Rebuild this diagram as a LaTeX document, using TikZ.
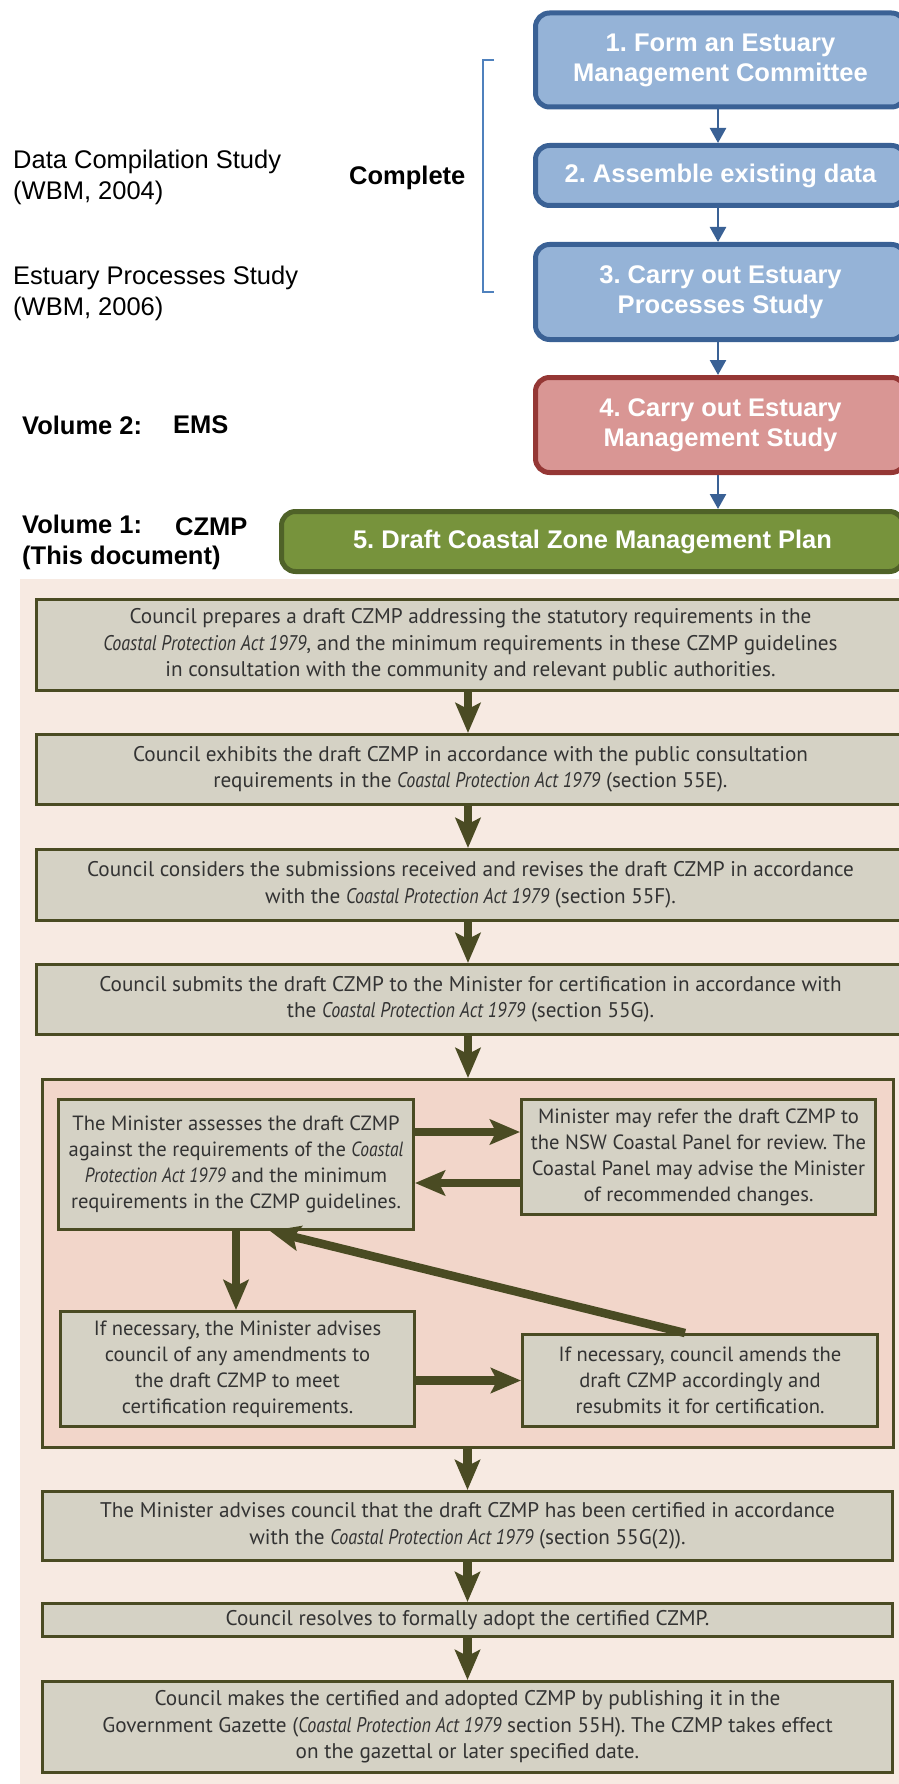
\documentclass[tikz,border=0pt]{standalone}
\usepackage{fontspec}
\setmainfont{Liberation Sans}
\newfontfamily\lowfont{PT Sans}[ItalicFeatures={FakeStretch=0.85}]
\usetikzlibrary{arrows.meta}
\definecolor{bluefill}{HTML}{95B3D7}
\definecolor{blueline}{HTML}{3A6195}
\definecolor{bracketc}{HTML}{4F81BD}
\definecolor{redfill}{HTML}{D99694}
\definecolor{redline}{HTML}{953735}
\definecolor{greenfill}{HTML}{77933C}
\definecolor{greenline}{HTML}{4F6228}
\definecolor{peach}{HTML}{F7EAE2}
\definecolor{pinkfill}{HTML}{F2D6CA}
\definecolor{greyfill}{HTML}{D5D2C5}
\definecolor{olive}{HTML}{4A4B23}
\definecolor{txt}{HTML}{333333}
\frenchspacing
\tikzset{
  topbox/.style={rounded corners=14pt, line width=5pt, align=center, inner sep=0pt, text=white,
    font=\bfseries\fontsize{25.5}{30}\selectfont},
  bluebox/.style={topbox, draw=blueline, fill=bluefill},
  redbox/.style={topbox, draw=redline, fill=redfill},
  greenbox/.style={topbox, draw=greenline, fill=greenfill},
  bluearrow/.style={draw=blueline, line width=2.5pt, -{Triangle[length=15pt,width=16pt]}},
  gbox/.style={draw=olive, line width=3pt, fill=greyfill, align=center, inner sep=0pt, text=txt,
    font=\lowfont\fontsize{21.2}{26.5}\selectfont},
  ibox/.style={gbox, font=\lowfont\fontsize{20.6}{26}\selectfont},
  bigarrow/.style={draw=olive, line width=8.5pt, -{Stealth[length=30pt,width=25pt,inset=6pt]}},
  sidetext/.style={anchor=west, align=left, inner sep=0pt, font=\fontsize{25.5}{31}\selectfont},
  sidebold/.style={anchor=west, align=left, inner sep=0pt, font=\bfseries\fontsize{25.5}{31}\selectfont}
}
\begin{document}
\begin{tikzpicture}[x=1pt,y=-1pt]
\useasboundingbox (0,0) rectangle (898,1784);
% top flow
\node[bluebox, minimum width=370pt, minimum height=94pt] (b1) at (720.5,60) {1. Form an Estuary\\Management Committee};
\node[bluebox, minimum width=370pt, minimum height=60pt] (b2) at (720.5,175.5) {2. Assemble existing data};
\node[bluebox, minimum width=370pt, minimum height=95pt] (b3) at (720.5,292) {3. Carry out Estuary\\Processes Study};
\node[redbox, minimum width=370pt, minimum height=95pt] (b4) at (720.5,425) {4. Carry out Estuary\\Management Study};
\node[greenbox, minimum width=622pt, minimum height=60pt] (b5) at (592.5,541.5) {5. Draft Coastal Zone Management Plan};
\coordinate (ax) at (718,0);
\draw[bluearrow] (b1.south -| ax) -- (b2.north -| ax);
\draw[bluearrow] (b2.south -| ax) -- (b3.north -| ax);
\draw[bluearrow] (b3.south -| ax) -- (b4.north -| ax);
\draw[bluearrow] (b4.south -| ax) -- (b5.north -| ax);
% bracket
\coordinate (brt) at (494,60);
\coordinate (brb) at (494,292);
\draw[draw=bracketc, line width=2pt] (brt) -- ++(-11,0) |- (brb);
% side texts
\node[sidetext] (t1) at (13,177.5) {Data Compilation Study\\(WBM, 2004)};
\node[sidetext] (t2) at (13,293) {Estuary Processes Study\\(WBM, 2006)};
\node[sidebold] (tc) at (349,178) {Complete};
\node[sidebold] (v2) at (22,425) {Volume 2:};
\node[sidebold] (v2b) at (173,425) {EMS};
\node[sidebold] (v1) at (22,542.5) {Volume 1:\\(This document)};
\node[sidebold] (v1b) at (175,527) {CZMP};
% lower panel
\fill[peach] (20,579) rectangle (910,1790);
\node[gbox, minimum width=868pt, minimum height=91pt] (A) at (470.5,645) {Council prepares a draft CZMP addressing the statutory requirements in the\\\textit{Coastal Protection Act 1979}, and the minimum requirements in these CZMP guidelines\\in consultation with the community and relevant public authorities.};
\node[gbox, minimum width=868pt, minimum height=70pt] (B) at (470.5,769.5) {Council exhibits the draft CZMP in accordance with the public consultation\\requirements in the \textit{Coastal Protection Act 1979} (section 55E).};
\node[gbox, minimum width=868pt, minimum height=71pt] (C) at (470.5,885) {Council considers the submissions received and revises the draft CZMP in accordance\\with the \textit{Coastal Protection Act 1979} (section 55F).};
\node[gbox, minimum width=868pt, minimum height=70pt] (D) at (470.5,999.5) {Council submits the draft CZMP to the Minister for certification in accordance with\\the \textit{Coastal Protection Act 1979} (section 55G).};
\node[draw=olive, line width=3pt, fill=pinkfill, minimum width=851pt, minimum height=368pt, inner sep=0pt] (P) at (468,1263.5) {};
\node[ibox, minimum width=355pt, minimum height=130pt] (Min) at (236,1164.5) {The Minister assesses the draft CZMP\\against the requirements of the \textit{Coastal}\\\textit{Protection Act 1979} and the minimum\\requirements in the CZMP guidelines.};
\node[ibox, minimum width=354pt, minimum height=115pt] (Pan) at (698.5,1157) {Minister may refer the draft CZMP to\\the NSW Coastal Panel for review. The\\Coastal Panel may advise the Minister\\of recommended changes.};
\node[ibox, minimum width=354pt, minimum height=115pt] (Adv) at (237.5,1369) {If necessary, the Minister advises\\council of any amendments to\\the draft CZMP to meet\\certification requirements.};
\node[ibox, minimum width=355pt, minimum height=92pt] (Am) at (700,1380.5) {If necessary, council amends the\\draft CZMP accordingly and\\resubmits it for certification.};
\node[gbox, minimum width=850pt, minimum height=69pt] (Ce) at (467.5,1526) {The Minister advises council that the draft CZMP has been certified in accordance\\with the \textit{Coastal Protection Act 1979} (section 55G(2)).};
\node[gbox, minimum width=850pt, minimum height=33pt] (Ad) at (467.5,1620) {Council resolves to formally adopt the certified CZMP.};
\node[gbox, minimum width=850pt, minimum height=91pt] (G) at (467.5,1727) {Council makes the certified and adopted CZMP by publishing it in the\\Government Gazette (\textit{Coastal Protection Act 1979} section 55H). The CZMP takes effect\\on the gazettal or later specified date.};
\draw[bigarrow] (A.south -| P.north) -- (B.north -| P.north);
\draw[bigarrow] (B.south -| P.north) -- (C.north -| P.north);
\draw[bigarrow] (C.south -| P.north) -- (D.north -| P.north);
\draw[bigarrow] (D.south -| P.north) -- (P.north);
\draw[bigarrow] (Min.east |- 0,1132) -- (Pan.west |- 0,1132);
\draw[bigarrow] (Pan.west |- 0,1183) -- (Min.east |- 0,1183);
\draw[bigarrow] (Min.south) -- (Min.south |- Adv.north);
\draw[bigarrow] ([xshift=-15pt]Am.north) -- ([xshift=34pt]Min.south);
\draw[bigarrow] (Adv.east |- Am.west) -- (Am.west);
\draw[bigarrow] (P.south -| Ce.north) -- (Ce.north);
\draw[bigarrow] (Ce.south) -- (Ad.north);
\draw[bigarrow] (Ad.south) -- (G.north);
\end{tikzpicture}
\end{document}
